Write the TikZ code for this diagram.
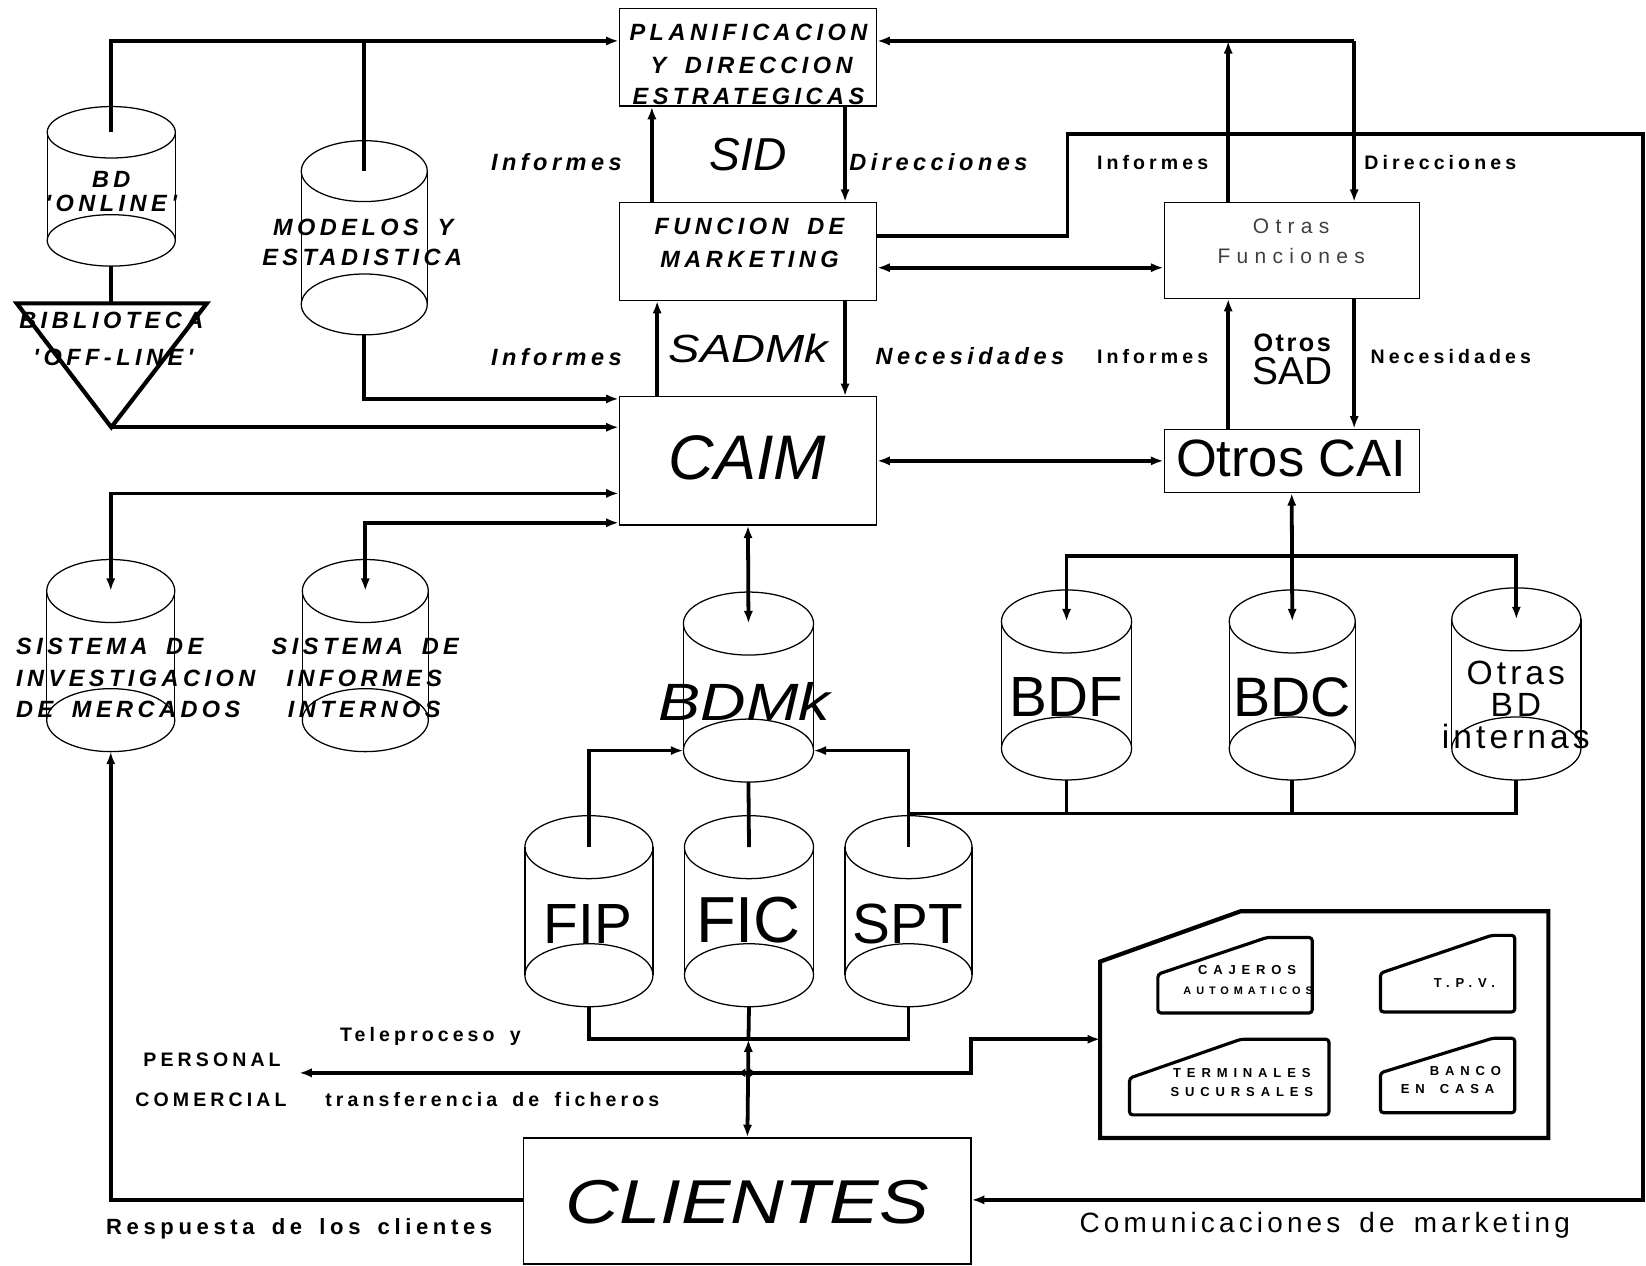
\documentclass[tikz,border=0pt]{standalone}
\usepackage{fontspec}
\setmainfont{Liberation Sans}
\newfontfamily\fSpaced[LetterSpace=19,WordSpace=1.7]{Liberation Sans}
\newfontfamily\fLabel[LetterSpace=21,WordSpace=1.6]{Liberation Sans}
\newfontfamily\fTiny[LetterSpace=45,WordSpace=1.6]{Liberation Sans}
\newfontfamily\fResp[LetterSpace=21,WordSpace=1.6]{Liberation Sans}
\newfontfamily\fComm[LetterSpace=15,WordSpace=1.6]{Liberation Sans}
\newfontfamily\fThin[LetterSpace=30]{Liberation Sans}
\newfontfamily\fOtros[LetterSpace=10]{Liberation Sans}
\newfontfamily\fWide[FakeStretch=1.2]{Liberation Sans}
\newfontfamily\fBD[LetterSpace=12]{Liberation Sans}
\usetikzlibrary{arrows.meta}

% cylinder: name, cx, y top, y bottom, rx, ry
\newcommand\drum[6]{%
  \draw[drumline] (#2,#3) ellipse [x radius=#5, y radius=#6];
  \draw[drumline] (#2,#4) ellipse [x radius=#5, y radius=#6];
  \draw[drumline] (#2-#5,#3) -- (#2-#5,#4) (#2+#5,#3) -- (#2+#5,#4);
  \coordinate (#1-t) at (#2,#3);
  \coordinate (#1-b) at (#2,#4+#6);
  \coordinate (#1-bw) at (#2-#5,#4);
  \coordinate (#1-be) at (#2+#5,#4);
}

\tikzset{
  conn/.style={line width=1.8pt, >={Latex[length=6pt,width=4.4pt]}},
  jtip/.style={line width=1.8pt, -{Latex[length=3.5pt,width=4.4pt]}},
  box/.style={draw, line width=0.6pt, inner sep=0pt},
  drumline/.style={line width=0.6pt},
  lblA/.style={font=\fSpaced\bfseries\itshape\fontsize{11.2}{13}\selectfont, inner sep=0pt},
  lblB/.style={font=\fLabel\bfseries\fontsize{9.3}{11}\selectfont, inner sep=0pt},
  tiny/.style={font=\fTiny\bfseries\fontsize{6.2}{7}\selectfont, inner sep=0pt},
  big/.style={inner sep=0pt},
  term/.style={line width=2pt, line join=miter},
  slot/.style={line width=1.5pt, rounded corners=1.5pt},
}

\begin{document}
\begin{tikzpicture}[x=0.5pt, y=-0.5pt]
\useasboundingbox (0,0) rectangle (1568,1206);

% ---------- boxes ----------
\node[box, minimum width=122.5pt, minimum height=46.5pt] (plan) at (712.5,54.5) {};
\node[box, minimum width=122.5pt, minimum height=46.5pt] (func) at (712.5,239.5) {};
\node[box, minimum width=122.5pt, minimum height=61pt] (caim) at (712.5,439) {};
\node[box, minimum width=121.5pt, minimum height=45.5pt] (otrasf) at (1230.5,238.5) {};
\node[box, minimum width=121.5pt, minimum height=30pt] (otrascai) at (1230.5,439) {};
\node[box, minimum width=213pt, minimum height=60pt] (clientes) at (712,1144) {};

% ---------- cylinders ----------
\drum{bdo}{106}{126}{229}{61}{24.5}
\drum{mod}{347}{163}{290}{60}{29}
\drum{inv}{105.5}{563}{686}{61}{30}
\drum{infm}{348}{563}{686}{60}{30}
\drum{bdmk}{713}{594}{715}{62}{30}
\drum{fip}{561}{807}{929}{61}{30}
\drum{fic}{713.5}{807}{929}{61.5}{30}
\drum{spt}{865.5}{807}{929}{60.5}{30}
\drum{bdf}{1016}{592}{713}{62}{30}
\drum{bdc}{1231}{592}{713}{60}{30}
\drum{obd}{1444.5}{590}{713}{61.5}{30}

% ---------- off-line library ----------
\draw[line width=2pt, line join=miter] (16,289) -- (197,289) -- (106,407) -- cycle;
\coordinate (tri-top) at (106,289);
\coordinate (tri-apex) at (106,407);

% ---------- terminals ----------
\draw[term] (1048,916) -- (1182,868) -- (1475,868) -- (1475,1084) -- (1048,1084) -- cycle;
\coordinate (term-in) at (1048,990);
\draw[slot] (1103,928) -- (1207,893) -- (1250,893) -- (1250,965) -- (1103,965) -- cycle;
\draw[slot] (1315,927) -- (1421,891) -- (1443,891) -- (1443,964) -- (1315,964) -- cycle;
\draw[slot] (1076,1027) -- (1182,990) -- (1266,990) -- (1266,1062) -- (1076,1062) -- cycle;
\draw[slot] (1315,1022) -- (1422,989) -- (1443,989) -- (1443,1060) -- (1315,1060) -- cycle;

% ---------- levels and bends ----------
\coordinate (lvTop) at (0,39);
\coordinate (lvMod) at (0,380);
\coordinate (lvInv) at (0,470);
\coordinate (lvInf) at (0,498);
\coordinate (lvFx) at (0,225);
\coordinate (lvFo) at (0,255);
\coordinate (lvB) at (0,775);
\coordinate (lvCli) at (0,1143);
\coordinate (xSidUp) at (621,0);
\coordinate (xSadUp) at (626,0);
\coordinate (xDn) at (805,0);
\coordinate (xInf) at (1170,0);
\coordinate (xDir) at (1290,0);
\coordinate (cm1) at (1017,128);
\coordinate (cm2) at (1565,128);
\coordinate (bus) at (1231,530);
\coordinate (fb) at (713,990);
\coordinate (tj) at (712,1022);
\coordinate (tp) at (285,1022);
\coordinate (tk) at (925,1022);

% ---------- connectors ----------
\draw[conn,->] (bdo-t) |- (plan.west |- lvTop);
\draw[conn] (mod-t) -- (mod-t |- lvTop);
\draw[conn] (bdo-b) -- (tri-top);
\draw[conn,->] (tri-apex) -- (caim.west |- tri-apex);
\draw[conn,->] (mod-b) |- (caim.west |- lvMod);
\draw[conn,<->] (inv-t) |- (caim.west |- lvInv);
\draw[conn,<->] (infm-t) |- (caim.west |- lvInf);

\draw[conn,->] (func.north -| xSidUp) -- (plan.south -| xSidUp);
\draw[conn,->] (plan.south -| xDn) -- (func.north -| xDn);
\draw[conn,->] (caim.north -| xSadUp) -- (func.south -| xSadUp);
\draw[conn,->] (func.south -| xDn) -- (caim.north -| xDn);

\draw[conn,->] (func.east |- lvFx) -| (cm1) -- (cm2) |- (clientes.east |- lvCli);
\draw[conn,<->] (func.east |- lvFo) -- (otrasf.west |- lvFo);

\draw[conn,->] (otrasf.north -| xInf) -- (xInf |- lvTop);
\draw[conn,->] (xDir |- lvTop) -- (plan.east |- lvTop);
\draw[conn,->] (xDir |- lvTop) -- (otrasf.north -| xDir);
\draw[conn,->] (otrascai.north -| xInf) -- (otrasf.south -| xInf);
\draw[conn,->] (otrasf.south -| xDir) -- (otrascai.north -| xDir);

\draw[conn,<->] (caim.east) -- (otrascai.west);
\draw[conn,<->] (otrascai.south) -- (bdc-t);
\draw[conn,->] (bus) -| (bdf-t);
\draw[conn,->] (bus) -| (obd-t);

\draw[conn] (obd-b) |- (spt-t |- lvB);
\draw[conn] (bdf-b) -- (bdf-b |- lvB);
\draw[conn] (bdc-b) -- (bdc-b |- lvB);

\draw[conn,->] (fip-t) |- (bdmk-bw);
\draw[conn,->] (spt-t) |- (bdmk-be);
\draw[conn] (fic-t) -- (bdmk-b);
\draw[conn,<->] (caim.south) -- (bdmk-t);

\draw[conn] (fip-b) |- (fb) -| (spt-b);
\draw[conn] (fic-b) -- (fb);
\draw[conn,<->] (fb) -- (clientes.north);

\draw[conn,->] (tj) -- (tp);
\draw[conn,->] (tj) -- (tk) |- (term-in);
% small tips where the file line leaves the client line
\draw[jtip] (tj) -- ([xshift=-4.5pt]tj);
\draw[jtip] (tj) -- ([xshift=4.5pt]tj);

\draw[conn,->] (clientes.west |- lvCli) -| (inv-b);

% ---------- texts ----------
\node[lblA] (tBD) at (106,171) {BD};
\node[lblA] (tOnl) at (106,194) {'ONLINE'};
\node[lblA] (tBib) at (106,305) {BIBLIOTECA};
\node[lblA] (tOff) at (108,340) {'OFF-LINE'};
\node[lblA] (tMod1) at (346,217) {MODELOS Y};
\node[lblA] (tMod2) at (345,245) {ESTADISTICA};
\node[lblA] (tPl1) at (713,30.5) {PLANIFICACION};
\node[lblA] (tPl2) at (716,62) {Y DIRECCION};
\node[lblA] (tPl3) at (713,92) {ESTRATEGICAS};
\node[lblA] (tFu1) at (714,216) {FUNCION DE};
\node[lblA] (tFu2) at (714,247) {MARKETING};
\node[lblA] (tInf1) at (530,154) {Informes};
\node[lblA] (tInf2) at (530,340) {Informes};
\node[lblA] (tDir) at (894,154) {Direcciones};
\node[lblA] (tNec) at (924,339) {Necesidades};
\node[lblA, anchor=west] (tSi1) at (15,616) {SISTEMA DE};
\node[lblA, anchor=west] (tSi2) at (15,646) {INVESTIGACION};
\node[lblA, anchor=west] (tSi3) at (15,676) {DE MERCADOS};
\node[lblA] (tSr1) at (348,616) {SISTEMA DE};
\node[lblA] (tSr2) at (347,646) {INFORMES};
\node[lblA] (tSr3) at (347,676) {INTERNOS};

\node[lblB] (tInf3) at (1098,155) {Informes};
\node[lblB] (tDir2) at (1372,155) {Direcciones};
\node[lblB] (tInf4) at (1098,340) {Informes};
\node[lblB] (tNec2) at (1382,340) {Necesidades};
\node[lblB, anchor=base] (tPer) at (202,1016) {PERSONAL};
\node[lblB, anchor=base] (tCom) at (201,1054) {COMERCIAL};
\node[lblB, anchor=base] (tTel) at (410,992) {Teleproceso y};
\node[lblB, anchor=base] (tTra) at (469,1054) {transferencia de ficheros};

\node[inner sep=0pt, anchor=base, font=\fResp\bfseries\fontsize{10.5}{12}\selectfont] (tResp) at (285,1176) {Respuesta de los clientes};
\node[inner sep=0pt, anchor=base, font=\fComm\fontsize{13.3}{15}\selectfont] (tComm) at (1262,1174) {Comunicaciones de marketing};

\node[inner sep=0pt, text=black!75, font=\fThin\fontsize{10}{12}\selectfont] (tOf1) at (1230,216) {Otras};
\node[inner sep=0pt, text=black!75, font=\fThin\fontsize{10}{12}\selectfont] (tOf2) at (1230,244) {Funciones};
\node[inner sep=0pt, font=\fOtros\bfseries\fontsize{12}{14}\selectfont] (tOtros) at (1231,327) {Otros};
\node[big, font=\fontsize{18.5}{20}\selectfont] (tSAD) at (1231,354) {SAD};
\node[big, font=\fontsize{25}{28}\selectfont] (tCAI) at (1230,437) {Otros CAI};

\node[big, font=\itshape\fontsize{22}{24}\selectfont] (tSID) at (713,147.5) {SID};
\node[big, font=\fWide\itshape\fontsize{18.7}{20}\selectfont] (tSADMk) at (713,332) {SADMk};
\node[big, font=\itshape\fontsize{30}{32}\selectfont] (tCAIM) at (712,436) {CAIM};
\node[big, font=\fWide\itshape\fontsize{25}{28}\selectfont] (tBDMk) at (709,668) {BDMk};
\node[big, font=\fWide\itshape\fontsize{29.5}{32}\selectfont] (tCli) at (712,1145) {CLIENTES};

\node[big, font=\fontsize{27}{30}\selectfont] (tFIP) at (560,880) {FIP};
\node[big, font=\fontsize{31}{33}\selectfont] (tFIC) at (713,876) {FIC};
\node[big, font=\fontsize{27}{30}\selectfont] (tSPT) at (865,880) {SPT};
\node[big, font=\fontsize{27}{30}\selectfont] (tBDF) at (1016,664) {BDF};
\node[big, font=\fontsize{26.5}{30}\selectfont] (tBDC) at (1231,664) {BDC};
\node[big, font=\fBD\fontsize{16}{18}\selectfont] (tOb1) at (1444,641) {Otras};
\node[big, font=\fBD\fontsize{16}{18}\selectfont] (tOb2) at (1444,672) {BD};
\node[big, anchor=base, font=\fBD\fontsize{16}{18}\selectfont] (tOb3) at (1444,713) {internas};

\node[tiny] (tCaj) at (1188,924) {CAJEROS};
\node[tiny, font=\fTiny\bfseries\fontsize{5.2}{6}\selectfont] (tAut) at (1189,944) {AUTOMATICOS};
\node[tiny] (tTPV) at (1395,936) {T.P.V.};
\node[tiny] (tTer) at (1183,1022) {TERMINALES};
\node[tiny] (tSuc) at (1183,1040) {SUCURSALES};
\node[tiny] (tBan) at (1396,1020) {BANCO};
\node[tiny] (tCasa) at (1379,1037) {EN CASA};
\end{tikzpicture}
\end{document}
